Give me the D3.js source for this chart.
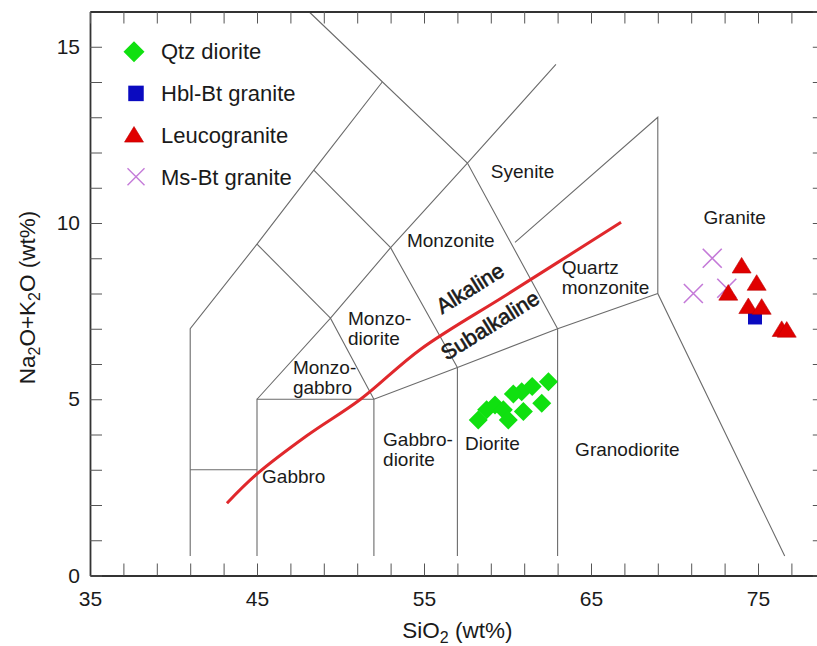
<!DOCTYPE html>
<html>
<head>
<meta charset="utf-8">
<script src="https://cdn.jsdelivr.net/npm/d3@7"></script>
<style>
  html, body { margin: 0; padding: 0; background: #fff; }
  svg text { font-family: "Liberation Sans", Arial, sans-serif; fill: #1a1a1a; }
</style>
</head>
<body>
<svg id="chart" width="817" height="646"></svg>
<script>
// ---- TAS classification grid (SiO2 wt%, Na2O+K2O wt%) ----
const fieldBoundaries = [
  [[41, 0.55], [41, 7], [45, 9.4], [48.4, 11.5], [52.5, 14]],
  [[41, 3], [45, 3]],
  [[45, 0.55], [45, 5], [52, 5], [57, 5.9], [63, 7], [69, 8]],
  [[52, 0.55], [52, 5]],
  [[57, 0.55], [57, 5.9]],
  [[63, 0.55], [63, 7]],
  [[45, 5], [49.4, 7.3], [52, 5]],
  [[45, 9.4], [49.4, 7.3]],
  [[49.4, 7.3], [53, 9.3], [57.6, 11.7], [62.9, 14.5]],
  [[48.4, 11.5], [53, 9.3], [57, 5.9]],
  [[48.1, 16], [57.6, 11.7], [63, 7]],
  [[60.45, 9.45], [69, 13], [69, 8], [76.6, 0.55]]
];

// Alkaline / subalkaline dividing line
const alkalineDivide = [
  [43.2, 2.05], [45, 2.88], [48, 3.97], [51.2, 5.0], [54.8, 6.42], [60, 7.98], [66.8, 10.02]
];

// Field names: [text lines, SiO2, alkali, anchor]
const fieldNames = [
  [["Syenite"], 60.9, 11.47, "middle"],
  [["Monzonite"], 56.6, 9.5, "middle"],
  [["Quartz", "monzonite"], 63.25, 8.75, "start"],
  [["Monzo-", "diorite"], 50.45, 7.3, "start"],
  [["Monzo-", "gabbro"], 47.15, 5.9, "start"],
  [["Gabbro"], 47.2, 2.81, "middle"],
  [["Gabbro-", "diorite"], 52.55, 3.85, "start"],
  [["Diorite"], 59.1, 3.75, "middle"],
  [["Granodiorite"], 67.18, 3.57, "middle"],
  [["Granite"], 73.6, 10.15, "middle"]
];

// Series samples
const qtzDioriteSiO2   = [58.25, 58.75, 59.25, 59.75, 60.05, 60.95, 60.85, 61.48, 62.05, 62.45, 60.35];
const qtzDioriteAlkali = [4.41, 4.70, 4.84, 4.70, 4.41, 4.65, 5.21, 5.36, 4.89, 5.50, 5.15];

const hblBtGraniteSiO2   = [74.82];
const hblBtGraniteAlkali = [7.32];

const leucograniteSiO2   = [74.02, 74.92, 73.22, 74.42, 75.22, 76.42, 76.72];
const leucograniteAlkali = [8.78, 8.29, 8.01, 7.63, 7.61, 6.98, 6.96];

const msBtGraniteSiO2   = [72.26, 71.13, 73.13];
const msBtGraniteAlkali = [9.0, 8.0, 8.15];

const seriesNames = ["Qtz diorite", "Hbl-Bt granite", "Leucogranite", "Ms-Bt granite"];

// Axis ticks
const xMinorTicks = d3.range(35, 80, 2);
const xTickLabels = [35, 45, 55, 65, 75];
const yMinorTicks = d3.range(0, 17, 1);
const yTickLabels = [0, 5, 10, 15];

// ---- layout ----
const svg = d3.select("#chart");
const plotLeft = 90, plotRight = 824.8, plotTop = 11.5, plotBottom = 575.5;

const x = d3.scaleLinear().domain([35, 79]).range([plotLeft, plotRight]);
const y = d3.scaleLinear().domain([0, 16]).range([plotBottom, plotTop]);

const plot = svg.append("g");

// grid lines
const line = d3.line().x(d => x(d[0])).y(d => y(d[1]));
plot.selectAll("path.field")
  .data(fieldBoundaries)
  .join("path")
  .attr("class", "field")
  .attr("d", line)
  .attr("fill", "none")
  .attr("stroke", "#6b6b6b")
  .attr("stroke-width", 1.1);

// field names
const fontField = 19;
fieldNames.forEach(([lines, sx, sy, anchor]) => {
  const t = plot.append("text")
    .attr("x", x(sx))
    .attr("y", y(sy))
    .attr("text-anchor", anchor)
    .attr("font-size", fontField);
  lines.forEach((s, i) => {
    t.append("tspan")
      .attr("x", x(sx))
      .attr("dy", i === 0 ? "0.35em" : "1.05em")
      .text(s);
  });
});

// alkaline divide
plot.append("path")
  .datum(alkalineDivide)
  .attr("d", d3.line().x(d => x(d[0])).y(d => y(d[1])).curve(d3.curveCatmullRom.alpha(0.5)))
  .attr("fill", "none")
  .attr("stroke", "#e0282c")
  .attr("stroke-width", 3);

const angle = -32;
plot.append("text")
  .attr("transform", `translate(${x(57.75)},${y(8.15)}) rotate(${angle})`)
  .attr("text-anchor", "middle")
  .attr("dy", "0.35em")
  .attr("font-size", 21.5)
  .attr("stroke", "#1a1a1a")
  .attr("stroke-width", 0.6)
  .text("Alkaline");
plot.append("text")
  .attr("transform", `translate(${x(58.95)},${y(7.1)}) rotate(${angle})`)
  .attr("text-anchor", "middle")
  .attr("dy", "0.35em")
  .attr("font-size", 21.5)
  .attr("stroke", "#1a1a1a")
  .attr("stroke-width", 0.6)
  .text("Subalkaline");

// ---- marker shapes ----
function diamond(r) { return `M0,${-r}L${r},0L0,${r}L${-r},0Z`; }
function square(s) { const h = s / 2; return `M${-h},${-h}H${h}V${h}H${-h}Z`; }
function triangle(w) {
  const h = w * 0.82, hw = w / 2;
  return `M0,${-h * 0.55}L${hw},${h * 0.45}L${-hw},${h * 0.45}Z`;
}
function cross(s) { const h = s / 2; return `M${-h},${-h}L${h},${h}M${-h},${h}L${h},${-h}`; }

const styles = {
  "Qtz diorite":    { path: diamond(9.5), fill: "#10e010", stroke: "none" },
  "Hbl-Bt granite": { path: square(14), fill: "#0a0ac0", stroke: "none" },
  "Leucogranite":   { path: triangle(19), fill: "#e00000", stroke: "#c00000" },
  "Ms-Bt granite":  { path: cross(19), fill: "none", stroke: "#c47ad8" }
};
const legendStyles = {
  "Qtz diorite":    diamond(10.5),
  "Hbl-Bt granite": square(15.5),
  "Leucogranite":   triangle(19),
  "Ms-Bt granite":  cross(17)
};

function drawSeries(name, xs, ys) {
  const st = styles[name];
  plot.append("g").selectAll("path")
    .data(xs.map((v, i) => [v, ys[i]]))
    .join("path")
    .attr("transform", d => `translate(${x(d[0])},${y(d[1])})`)
    .attr("d", st.path)
    .attr("fill", st.fill)
    .attr("stroke", st.stroke)
    .attr("stroke-width", name === "Ms-Bt granite" ? 1.6 : 0.6);
}
drawSeries("Qtz diorite", qtzDioriteSiO2, qtzDioriteAlkali);
drawSeries("Ms-Bt granite", msBtGraniteSiO2, msBtGraniteAlkali);
drawSeries("Hbl-Bt granite", hblBtGraniteSiO2, hblBtGraniteAlkali);
drawSeries("Leucogranite", leucograniteSiO2, leucograniteAlkali);

// ---- legend ----
const legend = svg.append("g");
seriesNames.forEach((name, i) => {
  const cy = 51.7 + i * 41.7;
  const st = styles[name];
  legend.append("path")
    .attr("transform", `translate(${name === "Qtz diorite" || name === "Leucogranite" ? 134 : 136},${cy})`)
    .attr("d", legendStyles[name])
    .attr("fill", st.fill)
    .attr("stroke", st.stroke)
    .attr("stroke-width", name === "Ms-Bt granite" ? 1.4 : 0.6);
  legend.append("text")
    .attr("x", 161)
    .attr("y", cy)
    .attr("dy", "0.35em")
    .attr("font-size", 22)
    .text(name);
});

// ---- axes ----
function styleAxis(g) {
  g.selectAll(".tick line").attr("stroke", "#555").attr("stroke-width", 1);
  g.select(".domain").attr("stroke", "#333").attr("stroke-width", 1.8);
  g.selectAll("text").attr("font-size", 21).attr("fill", "#1a1a1a")
    .attr("font-family", '"Liberation Sans", Arial, sans-serif');
}

svg.append("g")
  .attr("transform", `translate(0,${plotBottom})`)
  .call(d3.axisBottom(x).tickValues(xMinorTicks).tickSize(-12).tickSizeOuter(0).tickPadding(16)
    .tickFormat(d => xTickLabels.includes(d) ? d : ""))
  .call(styleAxis);

svg.append("g")
  .attr("transform", `translate(${plotLeft},0)`)
  .call(d3.axisLeft(y).tickValues(yMinorTicks).tickSize(-12).tickSizeOuter(0).tickPadding(10)
    .tickFormat(d => yTickLabels.includes(d) ? d : ""))
  .call(styleAxis);

svg.append("g")
  .attr("transform", `translate(0,${plotTop})`)
  .call(d3.axisTop(x).tickValues(xMinorTicks).tickSize(-12).tickSizeOuter(0).tickFormat(""))
  .call(styleAxis);

svg.append("g")
  .attr("transform", `translate(${plotRight},0)`)
  .call(d3.axisRight(y).tickValues(yMinorTicks).tickSize(-12).tickSizeOuter(0).tickFormat(""))
  .call(styleAxis);

// ---- axis titles (centred on each full axis) ----
const xTitle = svg.append("text")
  .attr("x", (plotLeft + plotRight) / 2).attr("y", 630).attr("dy", "0.35em")
  .attr("text-anchor", "middle").attr("font-size", 22.5);
xTitle.append("tspan").text("SiO");
xTitle.append("tspan").attr("font-size", 16).attr("dy", "5").text("2");
xTitle.append("tspan").attr("dy", "-5").text(" (wt%)");

const yTitle = svg.append("text")
  .attr("transform", `translate(27,${(plotTop + plotBottom) / 2 + 4}) rotate(-90)`)
  .attr("dy", "0.35em")
  .attr("text-anchor", "middle").attr("font-size", 22.5);
yTitle.append("tspan").text("Na");
yTitle.append("tspan").attr("font-size", 16).attr("dy", "5").text("2");
yTitle.append("tspan").attr("dy", "-5").text("O+K");
yTitle.append("tspan").attr("font-size", 16).attr("dy", "5").text("2");
yTitle.append("tspan").attr("dy", "-5").text("O (wt%)");
</script>
</body>
</html>
